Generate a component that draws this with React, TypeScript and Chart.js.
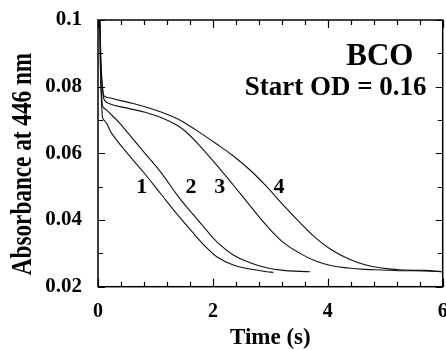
import React, { useEffect, useRef } from 'react';
import { Chart, registerables } from 'chart.js';

Chart.register(...registerables);

const FONT = '"Liberation Serif", "Times New Roman", serif';

const xMajorTicks = [0, 2, 4, 6];
const xTickLabels = ['0', '2', '4', '6'];
const xMinorStep = 0.4;
const yMajorTicks = [0.02, 0.04, 0.06, 0.08, 0.1];
const yTickLabels = ['0.02', '0.04', '0.06', '0.08', '0.1'];
const yMinorStep = 0.01;

const curve1Time = [0.03, 0.075, 0.151, 0.238, 0.527, 0.818, 1.109, 1.398, 1.688, 1.862, 2.066, 2.355, 2.646, 2.936, 3.051];
const curve1Abs = [0.1, 0.071, 0.069, 0.066, 0.0597, 0.0538, 0.0475, 0.0413, 0.0355, 0.0322, 0.029, 0.0265, 0.0253, 0.0245, 0.0243];

const curve2Time = [0.03, 0.075, 0.179, 0.353, 0.527, 0.818, 1.109, 1.398, 1.688, 1.862, 2.066, 2.355, 2.646, 2.936, 3.225, 3.516, 3.69];
const curve2Abs = [0.1, 0.0745, 0.0725, 0.0695, 0.066, 0.06, 0.054, 0.047, 0.041, 0.0375, 0.0335, 0.0295, 0.0272, 0.0257, 0.0249, 0.0246, 0.0245];

const curve3Time = [0.03, 0.092, 0.179, 0.527, 0.818, 1.109, 1.398, 1.572, 1.775, 2.066, 2.355, 2.646, 2.936, 3.225, 3.516, 3.777, 4.068, 4.357, 4.648, 4.938, 5.227, 5.518, 5.982];
const curve3Abs = [0.1, 0.077, 0.075, 0.0735, 0.0723, 0.0707, 0.0682, 0.0658, 0.0622, 0.0565, 0.0505, 0.0443, 0.0383, 0.0333, 0.03, 0.0278, 0.0263, 0.0256, 0.0252, 0.025, 0.0248, 0.0248, 0.0245];

const curve4Time = [0.03, 0.092, 0.238, 0.527, 0.818, 1.109, 1.398, 1.688, 2.066, 2.355, 2.646, 2.936, 3.225, 3.516, 3.777, 4.068, 4.357, 4.648, 4.938, 5.227, 5.518, 5.692, 5.982];
const curve4Abs = [0.1, 0.0777, 0.0765, 0.0753, 0.074, 0.0723, 0.0702, 0.0672, 0.0628, 0.0592, 0.055, 0.05, 0.0445, 0.0392, 0.0348, 0.031, 0.0284, 0.0266, 0.0256, 0.0251, 0.0249, 0.0249, 0.0245];

const curveLabels = ['1', '2', '3', '4'];
const curveLabelTime = [0.76, 1.62, 2.12, 3.15];
const curveLabelAbs = [0.048, 0.048, 0.048, 0.048];

const annotationTexts = ['BCO', 'Start OD = 0.16'];
const annotationTime = [5.49, 5.72];
const annotationAbs = [0.0865, 0.0775];
const annotationSizes = [31, 27];

const xTitle = 'Time (s)';
const yTitle = 'Absorbance at 446 nm';

function toPoints(t: number[], a: number[]) {
  return t.map((x, i) => ({ x, y: a[i] }));
}

const framePlugin = {
  id: 'framePlugin',
  afterDatasetsDraw(chart: any) {
    const { ctx, chartArea, scales } = chart;
    const xs = scales.x;
    const ys = scales.y;
    const { left, right, top, bottom } = chartArea;
    ctx.save();
    ctx.strokeStyle = '#000';
    ctx.lineWidth = 1.5;
    ctx.strokeRect(left, top, right - left, bottom - top);

    ctx.lineWidth = 1.2;
    for (let v = xs.min; v <= xs.max + 1e-9; v += xMinorStep) {
      const isMajor = xMajorTicks.some((m) => Math.abs(m - v) < 1e-6);
      const len = isMajor ? 8 : 5;
      const px = Math.round(xs.getPixelForValue(v)) + 0.5;
      ctx.beginPath();
      ctx.moveTo(px, bottom);
      ctx.lineTo(px, bottom - len);
      ctx.moveTo(px, top);
      ctx.lineTo(px, top + len);
      ctx.stroke();
    }
    for (let v = ys.min; v <= ys.max + 1e-9; v += yMinorStep) {
      const isMajor = yMajorTicks.some((m) => Math.abs(m - v) < 1e-6);
      const len = isMajor ? 7 : 5;
      const py = Math.round(ys.getPixelForValue(v)) + 0.5;
      ctx.beginPath();
      ctx.moveTo(left, py);
      ctx.lineTo(left + len, py);
      ctx.moveTo(right, py);
      ctx.lineTo(right - len, py);
      ctx.stroke();
    }

    ctx.fillStyle = '#000';
    ctx.textAlign = 'center';
    ctx.textBaseline = 'alphabetic';
    ctx.font = `bold 22px ${FONT}`;
    curveLabels.forEach((lab, i) => {
      ctx.fillText(lab, xs.getPixelForValue(curveLabelTime[i]), ys.getPixelForValue(curveLabelAbs[i]));
    });

    ctx.textAlign = 'right';
    annotationTexts.forEach((txt, i) => {
      ctx.font = `bold ${annotationSizes[i]}px ${FONT}`;
      ctx.fillText(txt, xs.getPixelForValue(annotationTime[i]), ys.getPixelForValue(annotationAbs[i]));
    });

    ctx.save();
    ctx.translate(24, 164);
    ctx.rotate(-Math.PI / 2);
    ctx.scale(0.8, 1);
    ctx.font = `bold 29px ${FONT}`;
    ctx.textAlign = 'center';
    ctx.textBaseline = 'middle';
    ctx.fillText(yTitle, 0, 0);
    ctx.restore();

    ctx.restore();
  },
};

export default function App() {
  const canvasRef = useRef<HTMLCanvasElement | null>(null);

  useEffect(() => {
    document.body.style.margin = '0';
    const canvas = canvasRef.current;
    if (!canvas) return;
    const lineStyle = {
      borderColor: '#111',
      borderWidth: 1.1,
      pointRadius: 0,
      fill: false,
      tension: 0.4,
    };
    const chart = new Chart(canvas, {
      type: 'line',
      data: {
        datasets: [
          { label: '1', data: toPoints(curve1Time, curve1Abs), ...lineStyle },
          { label: '2', data: toPoints(curve2Time, curve2Abs), ...lineStyle },
          { label: '3', data: toPoints(curve3Time, curve3Abs), ...lineStyle },
          { label: '4', data: toPoints(curve4Time, curve4Abs), ...lineStyle },
        ],
      },
      options: {
        animation: false,
        responsive: false,
        devicePixelRatio: 1,
        layout: { padding: { top: 20, right: 3.3, left: 0, bottom: 0 } },
        plugins: { legend: { display: false }, tooltip: { enabled: false } },
        scales: {
          x: {
            type: 'linear',
            min: 0,
            max: 6,
            grid: { display: false, drawTicks: false },
            border: { display: false },
            ticks: {
              stepSize: 2,
              padding: 13,
              color: '#000',
              font: { family: FONT, size: 20, weight: 'bold' },
              maxRotation: 0,
              callback: (v: any) => {
                const i = xMajorTicks.findIndex((m) => Math.abs(m - Number(v)) < 1e-6);
                return i >= 0 ? xTickLabels[i] : '';
              },
            },
            title: {
              display: true,
              text: xTitle,
              color: '#000',
              font: { family: FONT, size: 23, weight: 'bold' },
              padding: { top: 0, bottom: -2 },
            },
            afterFit: (scale: any) => {
              scale.height = 63.3;
              scale.paddingLeft = 0;
              scale.paddingRight = 0;
            },
          },
          y: {
            type: 'linear',
            min: 0.02,
            max: 0.1,
            grid: { display: false, drawTicks: false },
            border: { display: false },
            ticks: {
              stepSize: 0.02,
              padding: 16,
              color: '#000',
              font: { family: FONT, size: 21, weight: 'bold' },
              callback: (v: any) => {
                const i = yMajorTicks.findIndex((m) => Math.abs(m - Number(v)) < 1e-6);
                return i >= 0 ? yTickLabels[i] : '';
              },
            },
            afterFit: (scale: any) => {
              scale.width = 98;
              scale.paddingTop = 0;
              scale.paddingBottom = 0;
            },
          },
        },
      },
      plugins: [framePlugin],
    });
    return () => chart.destroy();
  }, []);

  return <canvas ref={canvasRef} width={446} height={350} style={{ display: 'block' }} />;
}
